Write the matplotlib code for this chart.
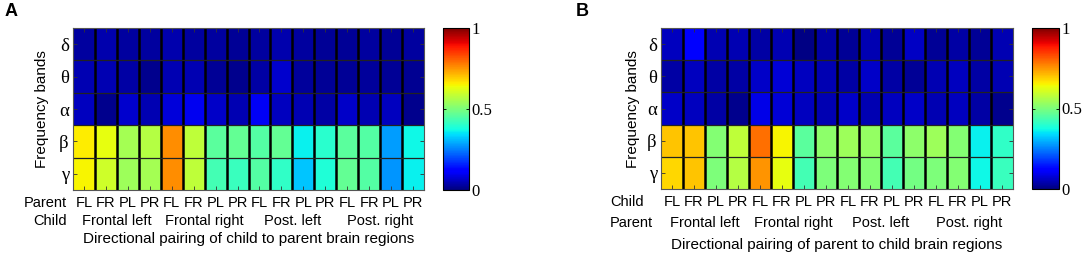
import numpy as np
import matplotlib.pyplot as plt
from matplotlib import transforms

# frequency bands (rows) and region pairs (columns)
bands = ["δ", "θ", "α", "β", "γ"]
pair_labels = ["FL", "FR", "PL", "PR"] * 4
groups = ["Frontal left", "Frontal right", "Post. left", "Post. right"]

# panel A: child -> parent
vals_a_delta = [0.03, 0.04, 0.03, 0.03, 0.04, 0.03, 0.03, 0.02, 0.03, 0.04, 0.03, 0.02, 0.02, 0.03, 0.02, 0.03]
vals_a_theta = [0.045, 0.045, 0.035, 0.012, 0.045, 0.045, 0.022, 0.012, 0.035, 0.07, 0.025, 0.022, 0.022, 0.025, 0.022, 0.018]
vals_a_alpha = [0.055, 0.012, 0.07, 0.045, 0.08, 0.1, 0.066, 0.045, 0.105, 0.055, 0.045, 0.035, 0.066, 0.045, 0.055, 0.012]
vals_a_beta = [0.66, 0.63, 0.55, 0.57, 0.76, 0.58, 0.46, 0.47, 0.45, 0.47, 0.36, 0.40, 0.46, 0.45, 0.28, 0.37]
vals_a_gamma = [0.65, 0.60, 0.54, 0.55, 0.76, 0.58, 0.43, 0.42, 0.45, 0.41, 0.32, 0.39, 0.47, 0.45, 0.27, 0.36]

# panel B: parent -> child
vals_b_delta = [0.055, 0.11, 0.045, 0.045, 0.035, 0.045, 0.005, 0.035, 0.022, 0.045, 0.022, 0.06, 0.022, 0.035, 0.022, 0.045]
vals_b_theta = [0.035, 0.055, 0.035, 0.035, 0.066, 0.077, 0.055, 0.045, 0.035, 0.066, 0.035, 0.022, 0.045, 0.055, 0.035, 0.045]
vals_b_alpha = [0.066, 0.055, 0.035, 0.012, 0.09, 0.077, 0.055, 0.045, 0.066, 0.045, 0.055, 0.066, 0.045, 0.055, 0.035, 0.012]
vals_b_beta = [0.70, 0.70, 0.51, 0.58, 0.79, 0.65, 0.46, 0.52, 0.54, 0.53, 0.46, 0.52, 0.54, 0.51, 0.36, 0.41]
vals_b_gamma = [0.68, 0.70, 0.50, 0.57, 0.75, 0.63, 0.43, 0.50, 0.51, 0.51, 0.43, 0.49, 0.50, 0.51, 0.37, 0.42]

mat_a = np.array([vals_a_delta, vals_a_theta, vals_a_alpha, vals_a_beta, vals_a_gamma])
mat_b = np.array([vals_b_delta, vals_b_theta, vals_b_alpha, vals_b_beta, vals_b_gamma])

W, H = 1084, 258
fig = plt.figure(figsize=(W / 100, H / 100), dpi=100)

sans = "Liberation Sans"
serif = "Liberation Serif"


def box(l, t, r, b):
    return [l / W, (H - b) / H, (r - l) / W, (b - t) / H]


def panel(mat, ax_box, cb_box, row1, row2, title, offs, row_x, row_ha):
    ax = fig.add_axes(box(*ax_box))
    nrow, ncol = mat.shape
    mesh = ax.pcolormesh(np.arange(ncol + 1), np.arange(nrow + 1), mat,
                         cmap="jet", vmin=0, vmax=1)
    ax.set_xlim(0, ncol)
    ax.set_ylim(nrow, 0)
    ax.vlines(np.arange(1, ncol), 0, nrow, color="black", lw=1.8)
    ax.hlines(np.arange(1, nrow), 0, ncol, color="#222222", lw=0.9)
    ax.set_xticks(np.arange(ncol) + 0.5)
    ax.set_xticklabels([])
    ax.set_yticks(np.arange(nrow) + 0.5)
    ax.set_yticklabels(bands, fontfamily=serif, fontsize=13.5)
    ax.tick_params(direction="in", length=3, width=0.6, top=True, right=True,
                   pad=3, color="#333333")
    for s in ax.spines.values():
        s.set_linewidth(0.8)
        s.set_color("#555555")

    tr = transforms.blended_transform_factory(ax.transData, ax.transAxes)
    for i, lab in enumerate(pair_labels):
        ax.annotate(lab, (i + 0.5, 0), xycoords=tr, xytext=(0, offs[0]),
                    textcoords="offset pixels", ha="center", va="center",
                    fontfamily=sans, fontsize=10.5)
    for g, lab in enumerate(groups):
        ax.annotate(lab, (g * 4 + 2, 0), xycoords=tr, xytext=(0, offs[1]),
                    textcoords="offset pixels", ha="center", va="center",
                    fontfamily=sans, fontsize=10.5)
    ax.annotate(title, (0.5, 0), xycoords="axes fraction", xytext=(0, offs[2]),
                textcoords="offset pixels", ha="center", va="center",
                fontfamily=sans, fontsize=11)
    fig.text(row_x / W, 1 - (ax_box[3] - offs[0]) / H, row1, ha=row_ha,
             va="center", fontfamily=sans, fontsize=10.5)
    fig.text(row_x / W, 1 - (ax_box[3] - offs[1]) / H, row2, ha=row_ha,
             va="center", fontfamily=sans, fontsize=10.5)

    cax = fig.add_axes(box(*cb_box))
    cb = fig.colorbar(mesh, cax=cax, ticks=[0, 0.5, 1])
    cb.ax.set_yticklabels(["0", "0.5", "1"], fontfamily=serif, fontsize=12)
    cb.ax.tick_params(direction="in", length=2, width=0.6, left=True, pad=2)
    cb.outline.set_linewidth(0.8)
    return ax


ax_a = panel(mat_a, (73, 28, 424, 190), (443, 28, 469, 190),
             "Parent", "Child", "Directional pairing of child to parent brain regions",
             (-13, -31, -49), 67, "right")
ax_b = panel(mat_b, (661, 28, 1013, 189), (1032, 28, 1059, 189),
             "Child", "Parent", "Directional pairing of parent to child brain regions",
             (-13, -34, -56), 610, "left")

fig.text(42 / W, 1 - 109 / H, "Frequency bands", rotation=90, ha="center",
         va="center", fontfamily=sans, fontsize=11)
fig.text(633 / W, 1 - 109 / H, "Frequency bands", rotation=90, ha="center",
         va="center", fontfamily=sans, fontsize=11)
fig.text(5 / W, 1 - 12 / H, "A", ha="left", va="center", fontfamily=sans,
         fontsize=13, fontweight="bold")
fig.text(576 / W, 1 - 12 / H, "B", ha="left", va="center", fontfamily=sans,
         fontsize=13, fontweight="bold")

fig.savefig("out.png", dpi=100)
